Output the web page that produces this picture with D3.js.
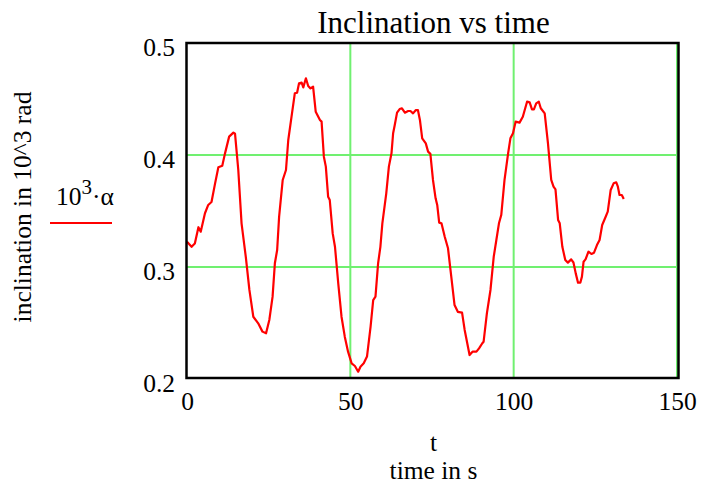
<!DOCTYPE html>
<html lang="en">
  <head>
    <meta charset="UTF-8" />
    <title>Inclination vs time</title>
    <style>
      body { margin: 0; background: #fff; }
    </style>
  </head>
  <body>
    <svg id="svg" width="701" height="486" font-family="Liberation Serif"></svg>
    <script src="https://d3js.org/d3.v7.min.js"></script>
    <script>
      // time in s
      const time = [
        0, 1.4, 2.4, 3.5, 4.2, 5.5, 6.5, 7.5, 8.6, 9.6, 10.8, 11.6, 12.9, 14.2, 14.7,
        15.7, 16.7, 18.0, 19.1, 20.3, 21.8, 23.1, 24.2, 25.2, 26.2, 26.9, 27.6, 28.2,
        29.3, 30.3, 31.0, 32.0, 33.0, 33.7, 34.3, 35.1, 35.6, 36.4, 37.1, 37.8, 38.6,
        39.4, 40.7, 41.2, 41.9, 42.5, 43.2, 43.7, 44.6, 45.3, 46.3, 47.3, 48.3, 49.3,
        50.4, 51.4, 52.4, 53.1, 54.1, 55.1, 56.2, 57.0, 57.7, 58.5, 59.2, 59.8, 61.0,
        61.8, 62.6, 63.1, 63.6, 64.3, 65.1, 65.8, 66.7, 67.7, 68.4, 69.2, 70.0, 70.7,
        71.3, 72.0, 73.1, 73.8, 74.5, 75.3, 76.1, 76.6, 77.2, 77.9, 78.9, 79.9, 80.9,
        81.9, 82.9, 84.2, 85.0, 86.5, 87.4, 88.6, 89.4, 90.4, 90.8, 91.8, 92.9, 93.9,
        94.7, 95.5, 96.2, 97.2, 98.3, 99.0, 99.8, 100.6, 101.8, 102.8, 104.1, 104.9,
        105.6, 106.2, 106.9, 107.7, 108.3, 109.5, 110.5, 111.5, 112.2, 112.8, 113.6,
        114.1, 114.9, 115.8, 116.6, 117.6, 118.3, 119.0, 119.7, 120.4, 120.9, 121.4,
        122.0, 122.9, 123.8, 124.6, 125.5, 126.3, 127.1, 128.1, 128.8, 129.7, 130.6,
        131.4, 131.9, 132.4, 133.1, 133.7
      ];
      // 10^3 * alpha
      const alpha = [
        0.3226, 0.318, 0.321, 0.3355, 0.3315, 0.348, 0.3554, 0.358, 0.3747, 0.389,
        0.3904, 0.401, 0.4164, 0.420, 0.419, 0.3866, 0.339, 0.309, 0.2795, 0.2556,
        0.2497, 0.2423, 0.2408, 0.2527, 0.2735, 0.3033, 0.3152, 0.345, 0.3777, 0.3866,
        0.4134, 0.4342, 0.4551, 0.4556, 0.464, 0.4646, 0.4604, 0.4685, 0.4616, 0.4595,
        0.461, 0.4387, 0.4313, 0.4298, 0.3985, 0.3896, 0.3628, 0.3598, 0.330, 0.3181,
        0.2854, 0.2556, 0.2378, 0.2244, 0.214, 0.2116, 0.2065, 0.211, 0.214, 0.220,
        0.2467, 0.2705, 0.2735, 0.3033, 0.318, 0.339, 0.3658, 0.3896, 0.4015, 0.4194,
        0.4268, 0.4378, 0.441, 0.4417, 0.4378, 0.4393, 0.4393, 0.4372, 0.440, 0.440,
        0.4313, 0.4149, 0.4104, 0.403, 0.401, 0.3777, 0.3613, 0.3554, 0.3396, 0.339,
        0.327, 0.3167, 0.2913, 0.266, 0.260, 0.2592, 0.2438, 0.2214, 0.2244, 0.2244,
        0.2274, 0.2319, 0.2333, 0.2586, 0.2795, 0.3092, 0.3241, 0.339, 0.3464, 0.3777,
        0.4015, 0.4149, 0.4194, 0.4298, 0.4289, 0.4342, 0.4476, 0.447, 0.4408, 0.4408,
        0.4461, 0.4476, 0.4417, 0.4372, 0.4104, 0.3777, 0.3717, 0.3693, 0.342, 0.339,
        0.318, 0.3062, 0.3039, 0.3068, 0.304, 0.2943, 0.286, 0.286, 0.2914, 0.3047,
        0.3068, 0.3137, 0.3116, 0.3128, 0.3196, 0.3241, 0.3375, 0.3444, 0.3494, 0.3688,
        0.3747, 0.3756, 0.3717, 0.3643, 0.3643, 0.3607
      ];
      const xTicks = [0, 50, 100, 150];
      const yTicks = [0.2, 0.3, 0.4, 0.5];

      const serif = "Liberation Serif";
      const plot = { left: 187, right: 677, top: 43, bottom: 379 };

      const svg = d3.select("#svg");

      const xScale = d3.scaleLinear().domain([0, 150]).range([plot.left, plot.right]);
      const yScale = d3.scaleLinear().domain([0.2, 0.5]).range([plot.bottom, plot.top]);

      // grid lines
      const grid = svg.append("g").attr("stroke", "#70f070").attr("stroke-width", 2);
      grid.selectAll(".gx")
        .data(xTicks.slice(1))
        .join("line")
        .attr("x1", (d) => xScale(d)).attr("x2", (d) => xScale(d))
        .attr("y1", plot.top).attr("y2", plot.bottom);
      grid.selectAll(".gy")
        .data(yTicks.slice(1, 3))
        .join("line")
        .attr("x1", plot.left).attr("x2", plot.right)
        .attr("y1", (d) => yScale(d)).attr("y2", (d) => yScale(d));

      // the curve
      const pts = time.map((t, i) => [t, alpha[i]]);
      const line = d3.line().x((d) => xScale(d[0])).y((d) => yScale(d[1]));
      svg.append("path")
        .datum(pts)
        .attr("d", line)
        .attr("fill", "none")
        .attr("stroke", "#ff0000")
        .attr("stroke-width", 2.2)
        .attr("stroke-linejoin", "round");

      // frame
      svg.append("rect")
        .attr("x", plot.left - 0.5)
        .attr("y", plot.top)
        .attr("width", plot.right - plot.left + 2)
        .attr("height", plot.bottom - plot.top - 1)
        .attr("fill", "none")
        .attr("stroke", "#000")
        .attr("stroke-width", 2.5);

      // axes (labels only)
      const xAxis = d3.axisBottom(xScale).tickValues(xTicks).tickSize(0).tickPadding(13);
      const gx = svg.append("g").attr("transform", `translate(0, ${plot.bottom})`).call(xAxis);
      gx.select(".domain").remove();
      gx.attr("font-family", serif).attr("font-size", 25.5);
      gx.selectAll("text").attr("fill", "#000");

      const yAxis = d3.axisLeft(yScale).tickValues(yTicks).tickSize(0).tickPadding(12)
        .tickFormat(d3.format(".1f"));
      const gy = svg.append("g").attr("transform", `translate(${plot.left}, 4.5)`).call(yAxis);
      gy.select(".domain").remove();
      gy.attr("font-family", serif).attr("font-size", 25.5);
      gy.selectAll("text").attr("fill", "#000");

      // title and axis titles
      svg.append("text")
        .attr("x", 433.5).attr("y", 33)
        .attr("text-anchor", "middle")
        .attr("font-family", serif)
        .attr("font-size", 31)
        .text("Inclination vs time");

      svg.append("text")
        .attr("x", 433.5).attr("y", 451)
        .attr("text-anchor", "middle")
        .attr("font-family", serif)
        .attr("font-size", 25.5)
        .text("t");
      svg.append("text")
        .attr("x", 433.5).attr("y", 479)
        .attr("text-anchor", "middle")
        .attr("font-family", serif)
        .attr("font-size", 25.5)
        .text("time in s");

      svg.append("text")
        .attr("transform", "translate(31, 207) rotate(-90)")
        .attr("text-anchor", "middle")
        .attr("font-family", serif)
        .attr("font-size", 25.5)
        .text("inclination in 10^3 rad");

      // legend
      const leg = svg.append("text")
        .attr("x", 56).attr("y", 205)
        .attr("font-family", serif)
        .attr("font-size", 25.5);
      leg.append("tspan").text("10");
      leg.append("tspan").attr("dy", -11).attr("font-size", 21).text("3");
      leg.append("tspan").attr("dy", 11).text("·α");
      svg.append("line")
        .attr("x1", 50).attr("x2", 112)
        .attr("y1", 223).attr("y2", 223)
        .attr("stroke", "#ff0000")
        .attr("stroke-width", 2);
    </script>
  </body>
</html>
